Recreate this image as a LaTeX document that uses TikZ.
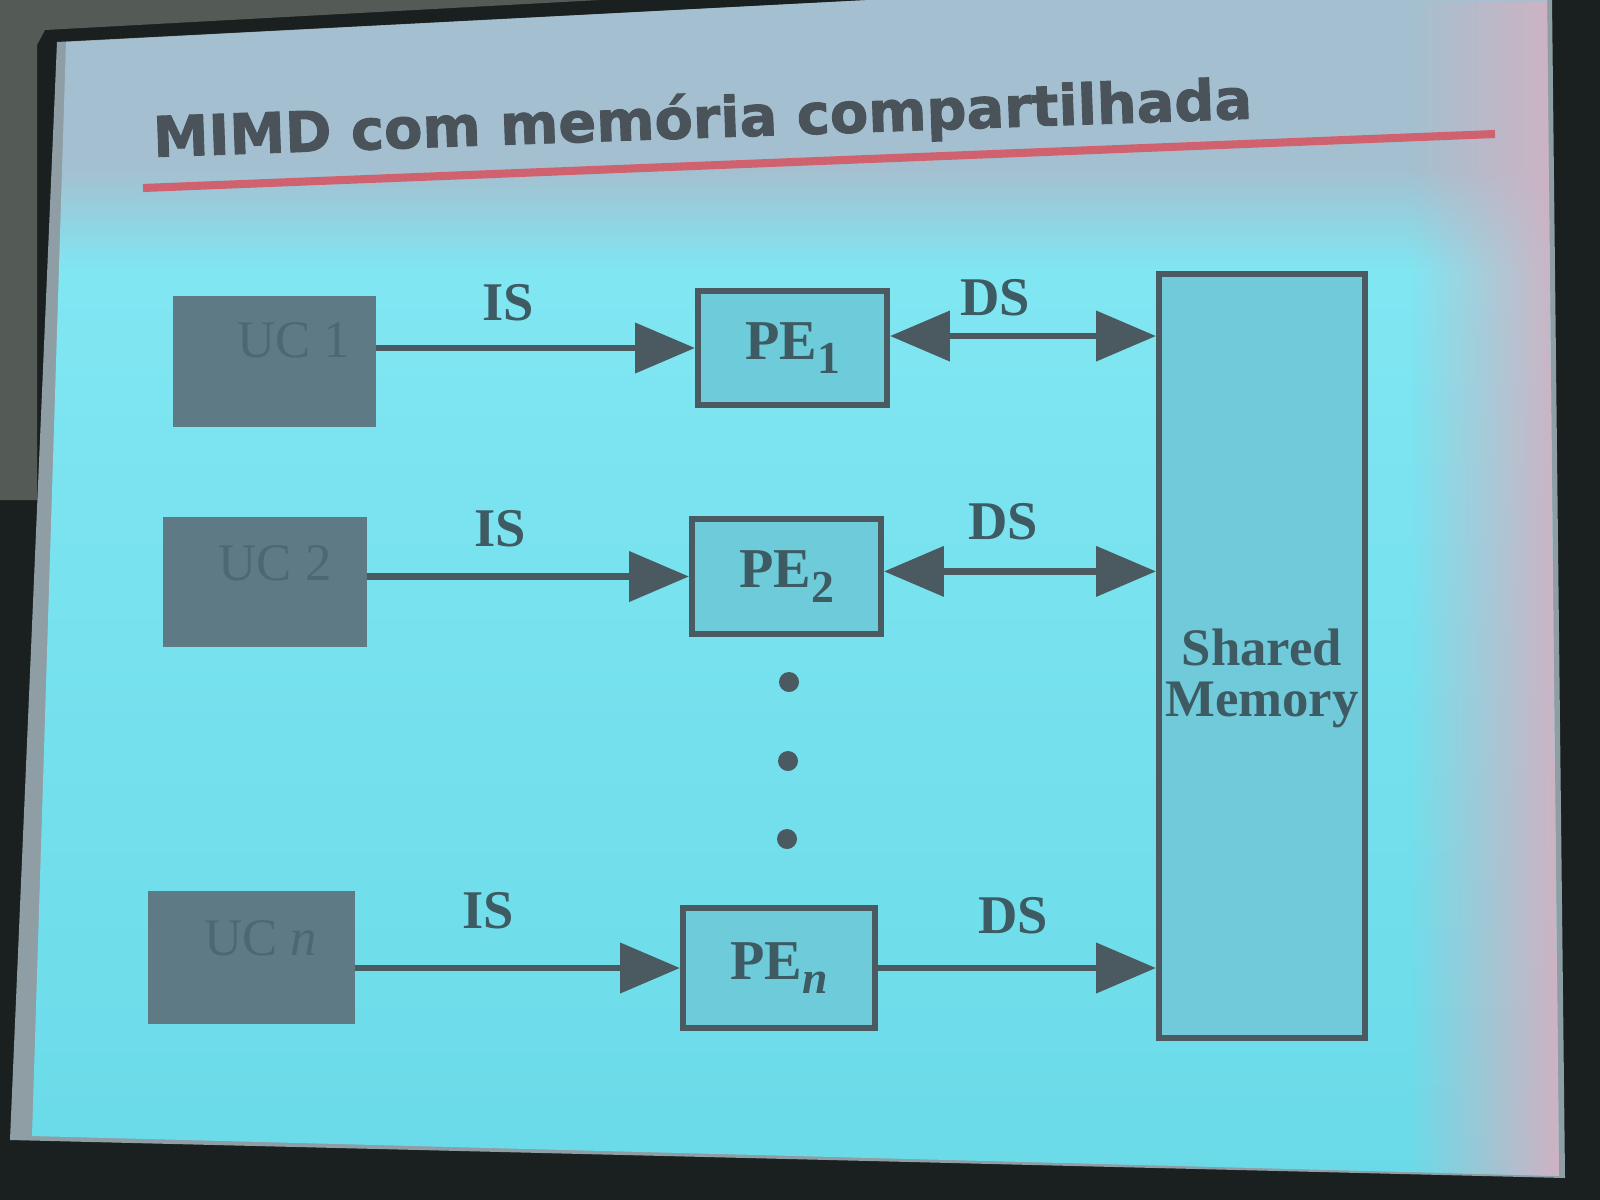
\documentclass[tikz,border=0pt]{standalone}
\usepackage{fontspec}
\setmainfont{Liberation Serif}
\newfontfamily\titlefont{DejaVu Sans}[BoldFeatures={FakeBold=1.6}]
\usetikzlibrary{arrows.meta,fadings}

% room and screen
\definecolor{wallc}{RGB}{84,90,86}
\definecolor{framec}{RGB}{26,32,32}
\definecolor{rimc}{RGB}{142,158,164}
\definecolor{topc}{RGB}{164,192,208}
\definecolor{cyanA}{RGB}{128,230,242}
\definecolor{cyanB}{RGB}{106,218,232}
\definecolor{hazec}{RGB}{208,178,194}
% slide content
\definecolor{titlec}{RGB}{74,82,90}
\definecolor{rulec}{RGB}{208,98,112}
\definecolor{ucfill}{RGB}{94,122,132}
\definecolor{uctext}{RGB}{78,104,114}
\definecolor{pefill}{RGB}{110,204,218}
\definecolor{smfill}{RGB}{112,202,218}
\definecolor{linec}{RGB}{74,90,96}
\definecolor{labc}{RGB}{62,90,98}

\newcommand\pesub[1]{\raisebox{-0.55ex}{\fontsize{13}{13}\selectfont #1}}

\tikzset{
  ucbox/.style={fill=ucfill, inner sep=0pt, outer sep=0pt},
  uclabel/.style={text=uctext, font=\fontsize{15}{18}\selectfont},
  pebox/.style={draw=linec, line width=1.7pt, fill=pefill, inner sep=0pt,
    text=labc, font=\fontsize{16}{18}\selectfont\bfseries},
  membox/.style={draw=linec, line width=1.7pt, fill=smfill, inner sep=0pt},
  sig/.style={text=labc, inner sep=0pt, font=\fontsize{15.5}{18}\selectfont\bfseries},
  busarrow/.style={draw=linec, line width=1.8pt,
    -{Triangle[length=17pt,width=14pt]}},
  duplex/.style={draw=linec, line width=1.8pt,
    {Triangle[length=17pt,width=14pt]}-{Triangle[length=17pt,width=14pt]}},
  dotc/.style={circle, fill=linec, inner sep=0pt, minimum size=2mm},
}

\begin{document}
\begin{tikzpicture}[x=0.01cm, y=-0.01cm]
\useasboundingbox (0,0) rectangle (1600,1200);

% surroundings
\fill[framec] (0,0) rectangle (1600,1200);
\fill[wallc] (0,0) -- (600,0) -- (45,30) -- (37,45) -- (37,500) -- (0,500) -- cycle;

% screen rim and projected area
\fill[rimc] (57,42) -- (870,0) -- (1552,0) -- (1565,1178) -- (10,1140) -- cycle;
\begin{scope}
  \clip (66,42) -- (870,0) -- (1547,0) -- (1559,1176) -- (32,1136) -- cycle;
  \fill[topc] (0,0) rectangle (1600,170);
  \shade[top color=topc, bottom color=cyanA] (0,170) rectangle (1600,270);
  \shade[top color=cyanA, bottom color=cyanB] (0,270) rectangle (1600,1200);
  \fill[hazec, path fading=west] (1410,0) rectangle (1560,1200);
\end{scope}

% title and rule
\node[anchor=base west, rotate=2, inner sep=0pt, text=titlec,
      font=\titlefont\fontsize{15.9}{19}\selectfont\bfseries]
  (title) at (153,157) {MIMD com memória compartilhada};
\draw[rulec, line width=2.3pt] (143,188) -- (1495,134);

% control units
\node[ucbox, minimum width=20.3mm, minimum height=13.1mm,
      label={[uclabel, xshift=1.9mm, yshift=2.1mm]center:UC 1}] (uc1) at (274.5,361.5) {};
\node[ucbox, minimum width=20.4mm, minimum height=13mm,
      label={[uclabel, xshift=1mm, yshift=1.9mm]center:UC 2}] (uc2) at (265,582) {};
\node[ucbox, minimum width=20.7mm, minimum height=13.3mm,
      label={[uclabel, xshift=0.9mm, yshift=1.9mm]center:UC \textit{n}}] (ucn) at (251.5,957.5) {};

% processing elements
\node[pebox, minimum width=18.9mm, minimum height=11.4mm] (pe1) at (792.5,348) {PE\pesub{1}};
\node[pebox, minimum width=18.9mm, minimum height=11.5mm] (pe2) at (786.5,576.5) {PE\pesub{2}};
\node[pebox, minimum width=19.2mm, minimum height=12mm] (pen) at (779,968) {PE\pesub{\textit{n}}};

% shared memory
\node[membox, minimum width=20.6mm, minimum height=76.4mm,
      label={[sig, yshift=-2.2mm, align=center, font=\fontsize{15}{14.5}\selectfont\bfseries]center:Shared\\Memory}]
  (sm) at (1262,656) {};

% instruction streams
\draw[busarrow] (uc1.east |- pe1.west) -- (pe1.west);
\draw[busarrow] (uc2.east |- pe2.west) -- (pe2.west);
\draw[busarrow] (ucn.east |- pen.west) -- (pen.west);

% data streams
\draw[duplex] (pe1.7) -- (pe1.7 -| sm.west);
\draw[duplex] (pe2.3) -- (pe2.3 -| sm.west);
\draw[busarrow] (pen.east) -- (pen.east -| sm.west);

% stream labels
\node[sig] (is1) at (508,303) {IS};
\node[sig] (ds1) at (995,298) {DS};
\node[sig] (is2) at (500,529) {IS};
\node[sig] (ds2) at (1003,522) {DS};
\node[sig] (isn) at (488,911) {IS};
\node[sig] (dsn) at (1013,916) {DS};

% ellipsis between the rows
\node[dotc] (dot1) at (789,682) {};
\node[dotc] (dot2) at (788,761) {};
\node[dotc] (dot3) at (787,839) {};
\end{tikzpicture}
\end{document}
